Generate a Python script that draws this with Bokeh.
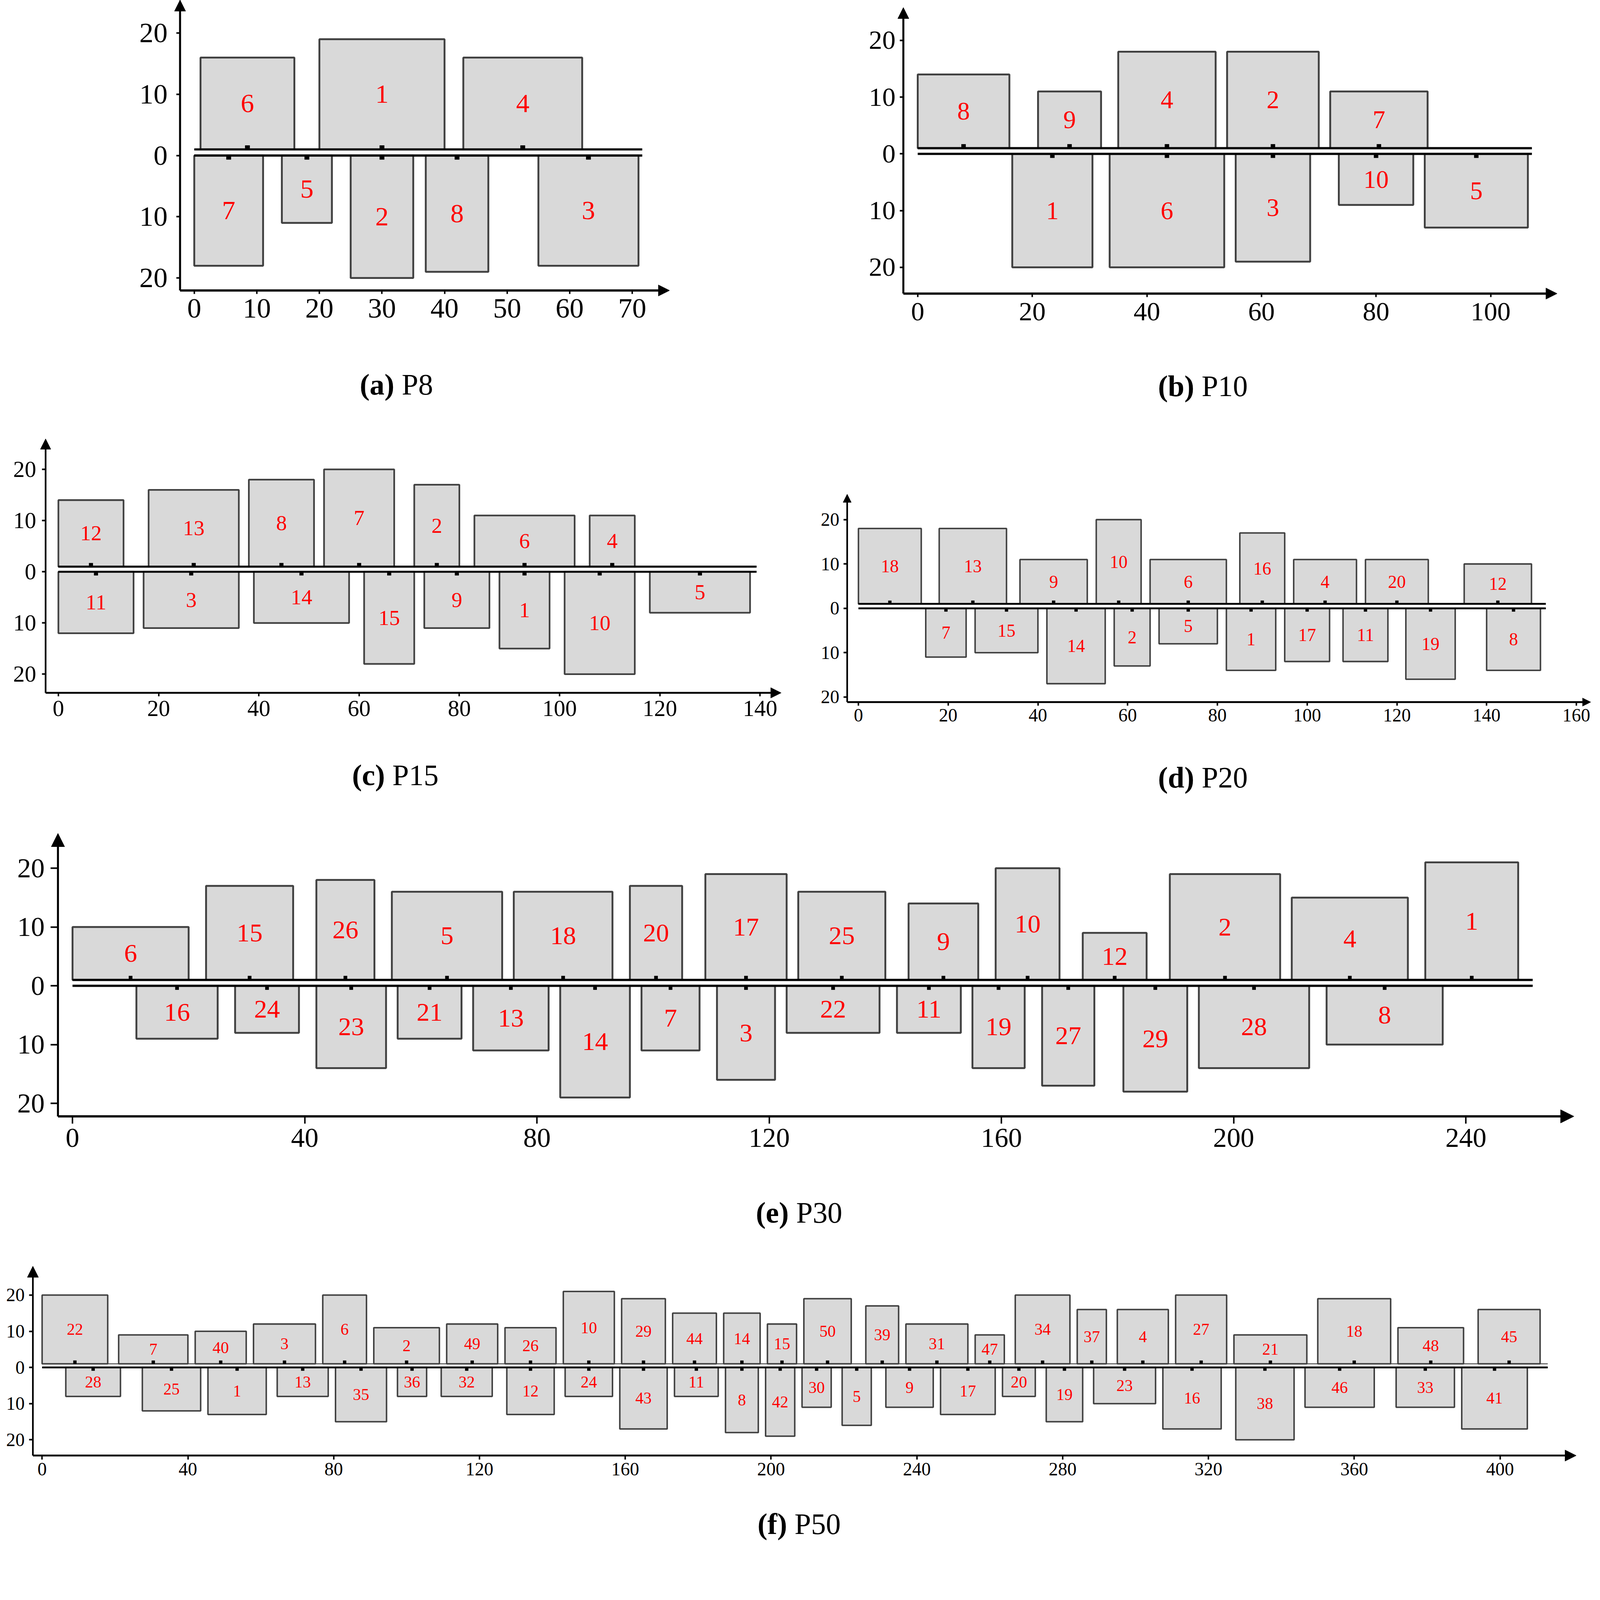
from bokeh.plotting import figure
from bokeh.models import Range1d, FixedTicker, Arrow, NormalHead, Label
from bokeh.layouts import row, column
from bokeh.embed import file_html
from bokeh.resources import INLINE
from bokeh.core.properties import value

# ---------------- data ----------------
# (a) P8
a_up_id = [6, 1, 4]
a_up_x0 = [1, 20, 43]
a_up_x1 = [16, 40, 62]
a_up_top = [16, 19, 16]
a_lo_id = [7, 5, 2, 8, 3]
a_lo_x0 = [0, 14, 25, 37, 55]
a_lo_x1 = [11, 22, 35, 47, 71]
a_lo_depth = [18, 11, 20, 19, 18]
a_xticks = [0, 10, 20, 30, 40, 50, 60, 70]
a_line_end = 71.6

# (b) P10
b_up_id = [8, 9, 4, 2, 7]
b_up_x0 = [0, 21, 35, 54, 72]
b_up_x1 = [16, 32, 52, 70, 89]
b_up_top = [14, 11, 18, 18, 11]
b_lo_id = [1, 6, 3, 10, 5]
b_lo_x0 = [16.5, 33.5, 55.5, 73.5, 88.5]
b_lo_x1 = [30.5, 53.5, 68.5, 86.5, 106.5]
b_lo_depth = [20, 20, 19, 9, 13]
b_xticks = [0, 20, 40, 60, 80, 100]
b_line_end = 107.2

# (c) P15
c_up_id = [12, 13, 8, 7, 2, 6, 4]
c_up_x0 = [0, 18, 38, 53, 71, 83, 106]
c_up_x1 = [13, 36, 51, 67, 80, 103, 115]
c_up_top = [14, 16, 18, 20, 17, 11, 11]
c_lo_id = [11, 3, 14, 15, 9, 1, 10, 5]
c_lo_x0 = [0, 17, 39, 61, 73, 88, 101, 118]
c_lo_x1 = [15, 36, 58, 71, 86, 98, 115, 138]
c_lo_depth = [12, 11, 10, 18, 11, 15, 20, 8]
c_xticks = [0, 20, 40, 60, 80, 100, 120, 140]
c_line_end = 139.3

# (d) P20
d_up_id = [18, 13, 9, 10, 6, 16, 4, 20, 12]
d_up_x0 = [0, 18, 36, 53, 65, 85, 97, 113, 135]
d_up_x1 = [14, 33, 51, 63, 82, 95, 111, 127, 150]
d_up_top = [18, 18, 11, 20, 11, 17, 11, 11, 10]
d_lo_id = [7, 15, 14, 2, 5, 1, 17, 11, 19, 8]
d_lo_x0 = [15, 26, 42, 57, 67, 82, 95, 108, 122, 140]
d_lo_x1 = [24, 40, 55, 65, 80, 93, 105, 118, 133, 152]
d_lo_depth = [11, 10, 17, 13, 8, 14, 12, 12, 16, 14]
d_xticks = [0, 20, 40, 60, 80, 100, 120, 140, 160]
d_line_end = 153.2

# (e) P30
e_up_id = [6, 15, 26, 5, 18, 20, 17, 25, 9, 10, 12, 2, 4, 1]
e_up_x0 = [0, 23, 42, 55, 76, 96, 109, 125, 144, 159, 174, 189, 210, 233]
e_up_x1 = [20, 38, 52, 74, 93, 105, 123, 140, 156, 170, 185, 208, 230, 249]
e_up_top = [10, 17, 18, 16, 16, 17, 19, 16, 14, 20, 9, 19, 15, 21]
e_lo_id = [16, 24, 23, 21, 13, 14, 7, 3, 22, 11, 19, 27, 29, 28, 8]
e_lo_x0 = [11, 28, 42, 56, 69, 84, 98, 111, 123, 142, 155, 167, 181, 194, 216]
e_lo_x1 = [25, 39, 54, 67, 82, 96, 108, 121, 139, 153, 164, 176, 192, 213, 236]
e_lo_depth = [9, 8, 14, 9, 11, 19, 11, 16, 8, 8, 14, 17, 18, 14, 10]
e_xticks = [0, 40, 80, 120, 160, 200, 240]
e_line_end = 251.5

# (f) P50
f_up_id = [22, 7, 40, 3, 6, 2, 49, 26, 10, 29, 44, 14, 15, 50, 39, 31, 47, 34, 37, 4, 27, 21, 18, 48, 45]
f_up_x0 = [0, 21, 42, 58, 77, 91, 111, 127, 143, 159, 173, 187, 199, 209, 226, 237, 256, 267, 284, 295, 311, 327, 350, 372, 394]
f_up_x1 = [18, 40, 56, 75, 89, 109, 125, 141, 157, 171, 185, 197, 207, 222, 235, 254, 264, 282, 292, 309, 325, 347, 370, 390, 411]
f_up_top = [20, 9, 10, 12, 20, 11, 12, 11, 21, 19, 15, 15, 12, 19, 17, 12, 9, 20, 16, 16, 20, 9, 19, 11, 16]
f_lo_id = [28, 25, 1, 13, 35, 36, 32, 12, 24, 43, 11, 8, 42, 30, 5, 9, 17, 20, 19, 23, 16, 38, 46, 33, 41]
f_lo_x0 = [6.5, 27.5, 45.5, 64.5, 80.5, 97.5, 109.5, 127.5, 143.5, 158.5, 173.5, 187.5, 198.5, 208.5, 219.5,
           231.5, 246.5, 263.5, 275.5, 288.5, 307.5, 327.5, 346.5, 371.5, 389.5]
f_lo_x1 = [21.5, 43.5, 61.5, 78.5, 94.5, 105.5, 123.5, 140.5, 156.5, 171.5, 185.5, 196.5, 206.5, 216.5, 227.5,
           244.5, 261.5, 272.5, 285.5, 305.5, 323.5, 343.5, 365.5, 387.5, 407.5]
f_lo_depth = [8, 12, 13, 8, 15, 8, 8, 13, 8, 17, 8, 18, 19, 11, 16, 11, 13, 8, 15, 10, 17, 20, 11, 11, 17]
f_xticks = [0, 40, 80, 120, 160, 200, 240, 280, 320, 360, 400]
f_line_end = 413.1

y_ticks = [-20, -10, 0, 10, 20]
y_tick_labels = {-20: "20", -10: "10", 0: "0", 10: "10", 20: "20"}
gap = 1  # upper rectangles sit on the line at y = 1

FONT = "Liberation Serif"
FILL = "#d9d9d9"
EDGE = "#404040"

# The photographed page shows about 1.0535 screen pixels per CSS pixel, so every
# pixel measure below (taken in picture pixels) is converted by S.
S = 1 / 1.0535

# -------------- layout (picture pixels) --------------
# block: (left, top, right, bottom) of the figure; axes box: (L, T, R, B) with data (xr, yr) at its edges
panels = [
    dict(tag="a", name="P8", up=(a_up_id, a_up_x0, a_up_x1, a_up_top), lo=(a_lo_id, a_lo_x0, a_lo_x1, a_lo_depth),
         xticks=a_xticks, line_end=a_line_end,
         block=(8, 8, 2200, 1150), frame=(493.5, 8, 1813.6, 791.3), xr=(-2.27, 75.96), yr=(-22.04, 25.4),
         tick_fs=76, lab_fs=72, tick_len=10, xstand=14, ystand=24, head=30, lw=5, hl=6, up_lw=6, up_col="black",
         ax_lw=6, dot=(13, 11), cap=(1077, 1045), cap_fs=80),
    dict(tag="b", name="P10", up=(b_up_id, b_up_x0, b_up_x1, b_up_top), lo=(b_lo_id, b_lo_x0, b_lo_x1, b_lo_depth),
         xticks=b_xticks, line_end=b_line_end,
         block=(2200, 8, 4312, 1150), frame=(2444.2, 28.1, 4207.3, 799.7), xr=(-2.51, 111.6), yr=(-24.63, 25.8),
         tick_fs=72, lab_fs=68, tick_len=10, xstand=16, ystand=12, head=30, lw=5, hl=6, up_lw=6, up_col="black",
         ax_lw=6, dot=(12, 11), cap=(3252, 1049), cap_fs=80),
    dict(tag="c", name="P15", up=(c_up_id, c_up_x0, c_up_x1, c_up_top), lo=(c_lo_id, c_lo_x0, c_lo_x1, c_lo_depth),
         xticks=c_xticks, line_end=c_line_end,
         block=(8, 1150, 2200, 2200), frame=(130.9, 1191.5, 2114.6, 1876.5), xr=(-2.55, 144.2), yr=(-23.65, 25.96),
         tick_fs=62, lab_fs=58, tick_len=10, xstand=12, ystand=16, head=28, lw=4.5, hl=5.5, up_lw=5.5, up_col="black",
         ax_lw=5, dot=(11, 10), cap=(1074, 2098), cap_fs=80),
    dict(tag="d", name="P20", up=(d_up_id, d_up_x0, d_up_x1, d_up_top), lo=(d_lo_id, d_lo_x0, d_lo_x1, d_lo_depth),
         xticks=d_xticks, line_end=d_line_end,
         block=(2200, 1150, 4312, 2200), frame=(2292.7, 1340.8, 4298, 1901.4), xr=(-2.51, 163.2), yr=(-21.15, 25.73),
         tick_fs=50, lab_fs=48, tick_len=9, xstand=10, ystand=12, head=22, lw=4, hl=5, up_lw=5, up_col="black",
         ax_lw=5, dot=(9, 9), cap=(3252, 2104), cap_fs=80),
    dict(tag="e", name="P30", up=(e_up_id, e_up_x0, e_up_x1, e_up_top), lo=(e_lo_id, e_lo_x0, e_lo_x1, e_lo_depth),
         xticks=e_xticks, line_end=e_line_end,
         block=(8, 2200, 4312, 3360), frame=(164.2, 2255.4, 4252.7, 3018.7), xr=(-2.51, 258.6), yr=(-22.21, 25.93),
         tick_fs=74, lab_fs=70, tick_len=20, xstand=14, ystand=16, head=36, lw=5, hl=6, up_lw=6, up_col="black",
         ax_lw=6, dot=(10, 11), cap=(2163, 3278), cap_fs=80),
    dict(tag="f", name="P50", up=(f_up_id, f_up_x0, f_up_x1, f_up_top), lo=(f_lo_id, f_lo_x0, f_lo_x1, f_lo_depth),
         xticks=f_xticks, line_end=f_line_end,
         block=(8, 3360, 4312, 4176), frame=(96.6, 3422.8, 4258.8, 3933.5), xr=(-2.53, 420.9), yr=(-24.35, 27.98),
         tick_fs=50, lab_fs=44, tick_len=11, xstand=10, ystand=12, head=30, lw=4, hl=5, up_lw=2.5, up_col=EDGE,
         ax_lw=5, dot=(9, 9), cap=(2163, 4118), cap_fs=80),
]

REG = {'(': .333, ')': .333, 'P': .556, ' ': .25}
BOLD = {'(': .333, ')': .333, 'a': .5, 'b': .556, 'c': .444, 'd': .556, 'e': .444, 'f': .333}


def text_w(s, table, fs):
    return sum(table.get(ch, .5) for ch in s) * fs


def css(v):
    return int(round(v * S))


def make_panel(c):
    bl, bt, br, bb = c["block"]
    bl_c = 8 if bl == 8 else css(bl)
    bt_c = 8 if bt == 8 else css(bt)
    br_c, bb_c = css(br), css(bb)
    L, T, R, B = (v * S for v in c["frame"])
    x0, x1 = c["xr"]
    y0, y1 = c["yr"]
    ppx = (R - L) / (x1 - x0)
    ppy = (B - T) / (y1 - y0)
    W, H = br_c - bl_c, bb_c - bt_c
    # the whole figure is the plotting frame; the axes sit inside it at fixed places
    X0 = x0 - (L - bl_c) / ppx
    X1 = X0 + W / ppx
    Y1 = y1 + (T - bt_c) / ppy
    Y0 = Y1 - H / ppy
    p = figure(frame_width=W, frame_height=H,
               min_border_left=0, min_border_right=0, min_border_top=0, min_border_bottom=0,
               x_range=Range1d(X0, X1), y_range=Range1d(Y0, Y1),
               output_backend="svg", toolbar_location=None)
    p.grid.visible = False
    p.outline_line_color = None

    uid, ux0, ux1, utop = c["up"]
    lid, lx0, lx1, ldep = c["lo"]
    lw = c["lw"] * S
    # rectangles
    p.quad(left=ux0, right=ux1, bottom=[gap] * len(ux0), top=utop,
           fill_color=FILL, line_color=EDGE, line_width=lw)
    p.quad(left=lx0, right=lx1, top=[0] * len(lx0), bottom=[-d for d in ldep],
           fill_color=FILL, line_color=EDGE, line_width=lw)
    # the two horizontal lines
    p.segment(x0=[0], y0=[gap], x1=[c["line_end"]], y1=[gap], line_color=c["up_col"], line_width=c["up_lw"] * S)
    p.segment(x0=[0], y0=[0], x1=[c["line_end"]], y1=[0], line_color="black", line_width=c["hl"] * S)
    # small markers at centres
    ucx = [(a + b) / 2 for a, b in zip(ux0, ux1)]
    lcx = [(a + b) / 2 for a, b in zip(lx0, lx1)]
    dw, dh = (v * S for v in c["dot"])
    p.rect(x=ucx, y=[gap + (dh / 2) / ppy] * len(ucx), width=dw, height=dh,
           width_units="screen", height_units="screen", fill_color="black", line_color=None)
    p.rect(x=lcx, y=[-(dh / 2) / ppy] * len(lcx), width=dw, height=dh,
           width_units="screen", height_units="screen", fill_color="black", line_color=None)
    # red labels
    ucy = [(gap + t) / 2 for t in utop]
    lcy = [-d / 2 for d in ldep]
    for xs, ys, ids in ((ucx, ucy, uid), (lcx, lcy, lid)):
        p.text(x=xs, y=ys, text=[str(i) for i in ids], text_align="center", text_baseline="middle",
               text_color="#ff0000", text_font=value(FONT), text_font_size=f"{c['lab_fs'] * S:.1f}px")

    # axes, fixed at the corner of the drawn axis lines
    for ax in (p.xaxis[0], p.yaxis[0]):
        ax.axis_line_color = None
        ax.major_tick_in = 0
        ax.major_tick_out = css(c["tick_len"])
        ax.major_tick_line_width = 4 * S
        ax.major_tick_line_color = "black"
        ax.minor_tick_line_color = None
        ax.major_label_text_font = FONT
        ax.major_label_text_font_size = f"{c['tick_fs'] * S:.1f}px"
        ax.major_label_text_color = "black"
    p.xaxis[0].fixed_location = y0
    p.yaxis[0].fixed_location = x0
    p.xaxis[0].ticker = FixedTicker(ticks=c["xticks"])
    p.xaxis[0].major_label_standoff = css(c["xstand"])
    p.yaxis[0].ticker = FixedTicker(ticks=y_ticks)
    p.yaxis[0].major_label_overrides = y_tick_labels
    p.yaxis[0].major_label_standoff = css(c["ystand"])

    h = c["head"] * S
    alw = c["ax_lw"] * S
    p.add_layout(Arrow(x_start=x0, y_start=y0, x_end=x1, y_end=y0, line_width=alw, line_color="black",
                       end=NormalHead(size=h, fill_color="black", line_color="black")))
    p.add_layout(Arrow(x_start=x0, y_start=y0, x_end=x0, y_end=y1, line_width=alw * 0.9, line_color="black",
                       end=NormalHead(size=h, fill_color="black", line_color="black")))

    # caption "(a) P8"
    cx, cy = c["cap"][0] * S, c["cap"][1] * S
    fs = c["cap_fs"] * S
    left_txt, right_txt = f"({c['tag']})", c["name"]
    wl = text_w(left_txt, BOLD, fs)
    ws = 0.25 * fs
    wr = text_w(right_txt, REG, fs)
    start = cx - (wl + ws + wr) / 2

    def dx(px):
        return x0 + (px - L) / ppx

    dy = y0 - (cy - B) / ppy
    p.add_layout(Label(x=dx(start + wl), y=dy, text=left_txt, text_align="right", text_baseline="middle",
                       text_font=FONT, text_font_style="bold", text_font_size=f"{fs:.1f}px", text_color="black"))
    p.add_layout(Label(x=dx(start + wl + ws), y=dy, text=right_txt, text_align="left", text_baseline="middle",
                       text_font=FONT, text_font_size=f"{fs:.1f}px", text_color="black"))
    return p


figs = [make_panel(c) for c in panels]
layout = column(row(figs[0], figs[1]), row(figs[2], figs[3]), figs[4], figs[5])
open("out.html", "w").write(file_html(layout, INLINE))
